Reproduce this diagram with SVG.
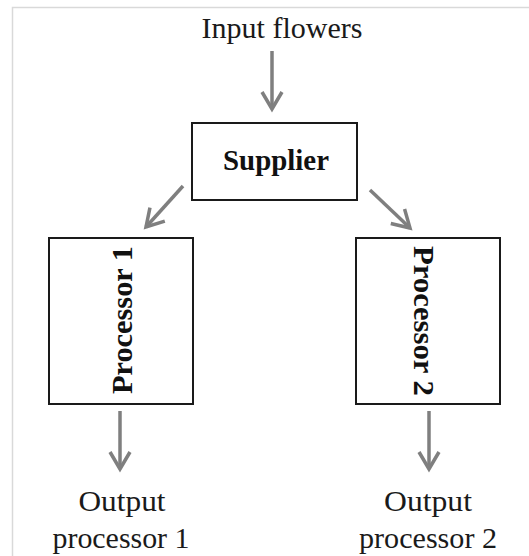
<svg xmlns="http://www.w3.org/2000/svg" width="529" height="556" viewBox="0 0 529 556">
<defs>
<marker id="ah" markerUnits="userSpaceOnUse" markerWidth="40" markerHeight="40" refX="0" refY="0" viewBox="-20 -20 40 40" orient="auto">
<path d="M-17,-10 L0,0 L-17,10" fill="none" stroke="#7f7f7f" stroke-width="3.5" stroke-linejoin="miter"/>
</marker>
<style>
.frame{fill:none;stroke:#d9d9d9;stroke-width:1.5}
.box{fill:#ffffff;stroke:#1a1a1a;stroke-width:2}
.lbl{font-family:"Liberation Serif","Times New Roman",serif;font-size:30px;fill:#1a1a1a}
.node{font-family:"Liberation Serif","Times New Roman",serif;font-size:30px;font-weight:bold;fill:#111111}
.arr{fill:none;stroke:#7f7f7f;stroke-width:3.5;marker-end:url(#ah)}
</style>
</defs>
<rect width="529" height="556" fill="#ffffff"/>
<path class="frame" d="M12.5,556 L12.5,7.5 L529,7.5"/>
<g id="input">
<text class="lbl" x="282" y="38" text-anchor="middle" textLength="161" lengthAdjust="spacingAndGlyphs">Input flowers</text>
</g>
<g id="supplier">
<rect class="box" x="192" y="123" width="165" height="77"/>
<text class="node" x="276" y="170" text-anchor="middle" textLength="106" lengthAdjust="spacingAndGlyphs">Supplier</text>
</g>
<g id="processor1">
<rect class="box" x="49" y="238" width="144" height="166"/>
<text class="node" transform="translate(132,320) rotate(-90)" x="0" y="0" text-anchor="middle" textLength="148" lengthAdjust="spacingAndGlyphs">Processor 1</text>
</g>
<g id="processor2">
<rect class="box" x="356" y="238" width="144" height="166"/>
<text class="node" transform="translate(414,321) rotate(90)" x="0" y="0" text-anchor="middle" textLength="150" lengthAdjust="spacingAndGlyphs">Processor 2</text>
</g>
<g id="output1">
<text class="lbl" x="122" y="511" text-anchor="middle" textLength="87" lengthAdjust="spacingAndGlyphs">Output</text>
<text class="lbl" x="121" y="548" text-anchor="middle" textLength="137" lengthAdjust="spacingAndGlyphs">processor 1</text>
</g>
<g id="output2">
<text class="lbl" x="428" y="511" text-anchor="middle" textLength="88" lengthAdjust="spacingAndGlyphs">Output</text>
<text class="lbl" x="428" y="548" text-anchor="middle" textLength="138" lengthAdjust="spacingAndGlyphs">processor 2</text>
</g>
<g id="connectors">
<line class="arr" x1="272" y1="51" x2="272" y2="109"/>
<line class="arr" x1="183" y1="186" x2="146" y2="227"/>
<line class="arr" x1="370" y1="190" x2="410" y2="228"/>
<line class="arr" x1="120" y1="411" x2="120" y2="469"/>
<line class="arr" x1="429" y1="411" x2="429" y2="469"/>
</g>
</svg>
